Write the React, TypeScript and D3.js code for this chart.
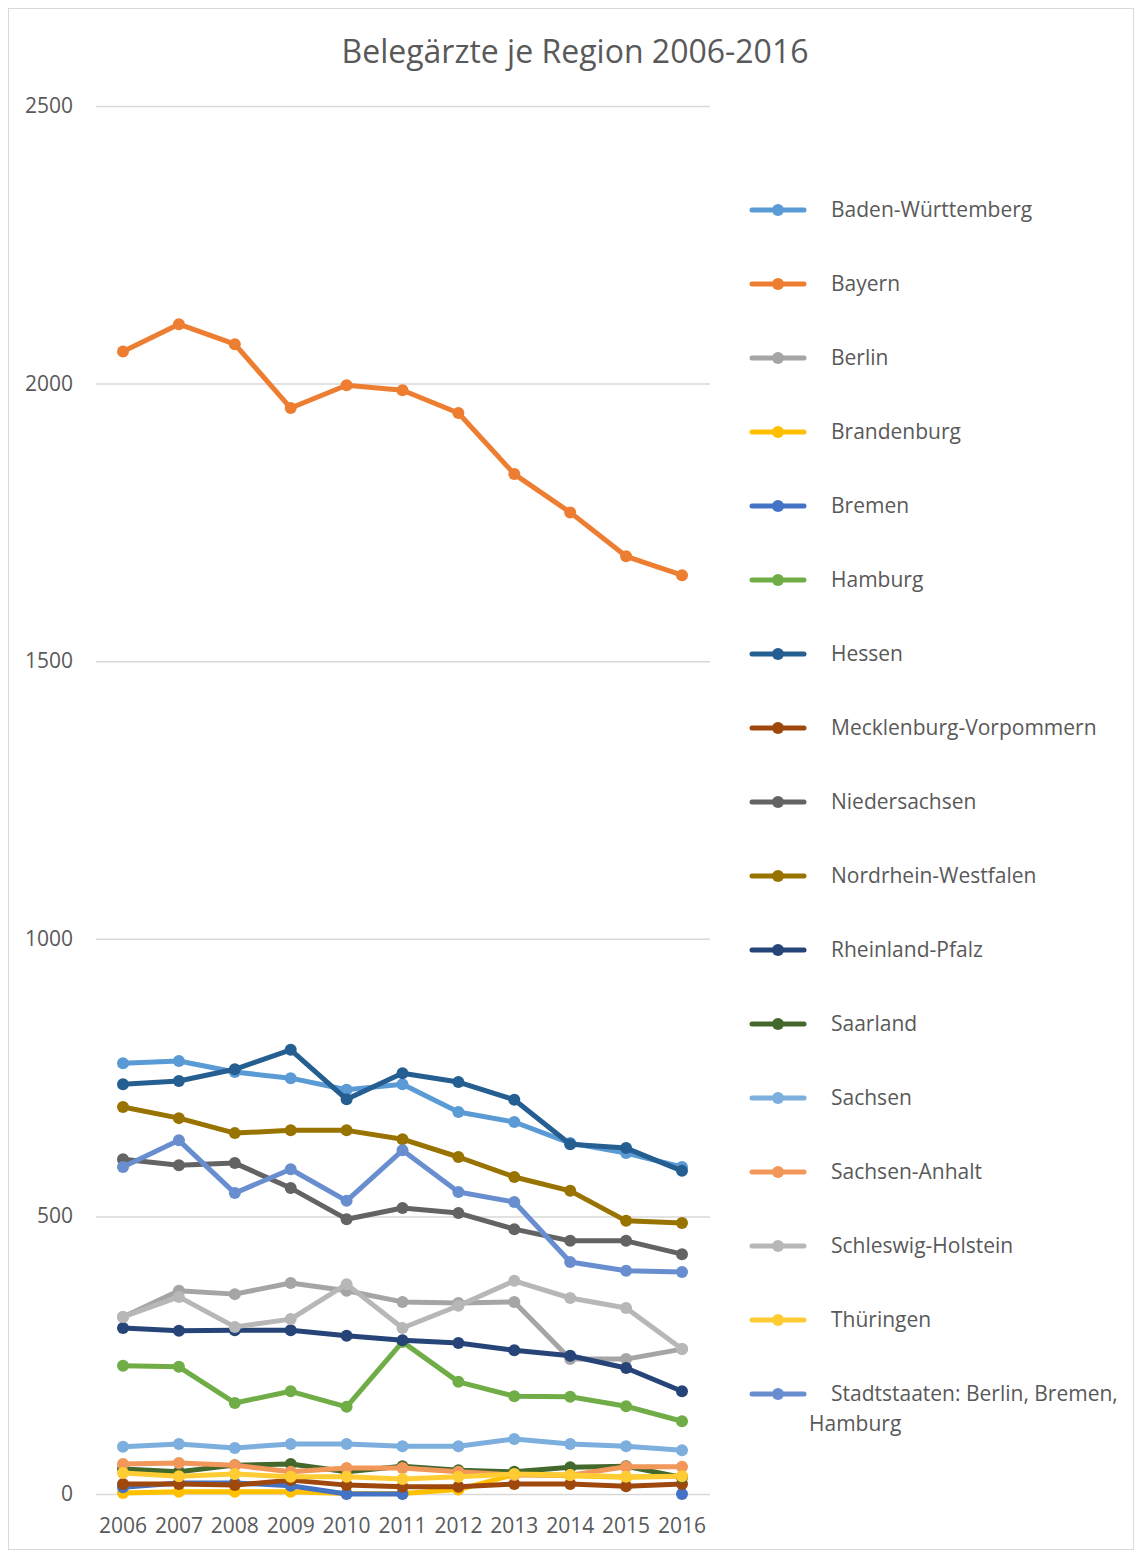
import React, { useEffect, useRef } from 'react';
import * as d3 from 'd3';

const years = ['2006', '2007', '2008', '2009', '2010', '2011', '2012', '2013', '2014', '2015', '2016'];
const yTicks = [0, 500, 1000, 1500, 2000, 2500];

const badenWuerttemberg = [776, 780, 760, 749, 728, 738, 688, 670, 632, 614, 589];
const bayern = [2058, 2107, 2071, 1956, 1997, 1988, 1947, 1837, 1768, 1689, 1655];
const berlin = [319, 366, 360, 380, 366, 346, 344, 346, 243, 243, 261];
const brandenburg = [2, 4, 4, 4, 1, 1, 8, 35, 33, 30, 32];
const bremen = [12, 20, 20, 15, 0, 0, null, null, null, null, 0];
const hamburg = [231, 229, 164, 185, 157, 274, 202, 176, 175, 158, 131];
const hessen = [738, 744, 765, 800, 711, 758, 742, 710, 630, 623, 582];
const mecklenburg = [18, 18, 16, 25, 16, 13, 13, 18, 18, 14, 18];
const niedersachsen = [603, 592, 596, 551, 495, 515, 506, 477, 456, 456, 432];
const nrw = [697, 677, 650, 655, 655, 639, 607, 571, 546, 492, 488];
const rheinlandPfalz = [299, 294, 295, 295, 285, 277, 272, 259, 249, 227, 185];
const saarland = [45, 40, 52, 54, 40, 50, 43, 40, 48, 50, 30];
const sachsen = [85, 90, 83, 90, 90, 86, 86, 99, 90, 86, 79];
const sachsenAnhalt = [54, 56, 52, 40, 47, 47, 40, 34, 34, 49, 49];
const schleswigHolstein = [319, 355, 301, 315, 378, 299, 339, 384, 353, 335, 261];
const thueringen = [38, 32, 36, 31, 31, 27, 31, 36, 34, 31, 32];
const stadtstaaten = [589, 637, 542, 585, 528, 619, 544, 526, 418, 402, 400];

const seriesNames = [
  'Baden-Württemberg', 'Bayern', 'Berlin', 'Brandenburg', 'Bremen', 'Hamburg', 'Hessen',
  'Mecklenburg-Vorpommern', 'Niedersachsen', 'Nordrhein-Westfalen', 'Rheinland-Pfalz',
  'Saarland', 'Sachsen', 'Sachsen-Anhalt', 'Schleswig-Holstein', 'Thüringen',
  'Stadtstaaten: Berlin, Bremen, Hamburg'
];
const seriesValues = [
  badenWuerttemberg, bayern, berlin, brandenburg, bremen, hamburg, hessen, mecklenburg,
  niedersachsen, nrw, rheinlandPfalz, saarland, sachsen, sachsenAnhalt, schleswigHolstein,
  thueringen, stadtstaaten
];
const colors = [
  '#5B9BD5', '#ED7D31', '#A5A5A5', '#FFC000', '#4472C4', '#70AD47', '#255E91', '#9E480E',
  '#636363', '#997300', '#264478', '#43682B', '#7CAFDD', '#F1975A', '#B7B7B7', '#FFCD33',
  '#698ED0'
];

const App = () => {
  const ref = useRef<SVGSVGElement>(null);

  useEffect(() => {
    const svg = d3.select(ref.current);
    svg.selectAll('*').remove();
    const font = '"Open Sans", sans-serif';
    const textColor = '#595959';

    svg.append('rect')
      .attr('x', 8.5).attr('y', 8.5).attr('width', 1125).attr('height', 1541)
      .attr('fill', '#fff').attr('stroke', '#d9d9d9');

    const x = d3.scalePoint().domain(years).range([123, 682]);
    const y = d3.scaleLinear().domain([0, 2500]).range([1494, 106]);

    svg.append('text')
      .attr('x', 575).attr('y', 63)
      .attr('text-anchor', 'middle')
      .style('font-family', font).style('font-size', '32px').style('fill', textColor)
      .text('Belegärzte je Region 2006-2016');

    const grid = svg.append('g');
    grid.selectAll('line').data(yTicks).enter().append('line')
      .attr('x1', 96).attr('x2', 710)
      .attr('y1', (d) => y(d) + 0.5).attr('y2', (d) => y(d) + 0.5)
      .attr('stroke', '#d9d9d9').attr('stroke-width', 1.5);
    grid.selectAll('text').data(yTicks).enter().append('text')
      .attr('x', 73).attr('y', (d) => y(d) + 7)
      .attr('text-anchor', 'end')
      .style('font-family', font).style('font-size', '21px').style('fill', textColor)
      .text((d) => d);

    svg.append('g').selectAll('text').data(years).enter().append('text')
      .attr('x', (d) => x(d)!).attr('y', 1533)
      .attr('text-anchor', 'middle')
      .style('font-family', font).style('font-size', '21px').style('fill', textColor)
      .text((d) => d);

    const line = d3.line<number | null>()
      .defined((d) => d !== null)
      .x((_, i) => x(years[i])!)
      .y((d) => y(d as number));

    seriesValues.forEach((vals, si) => {
      const g = svg.append('g');
      g.append('path')
        .attr('d', line(vals))
        .attr('fill', 'none')
        .attr('stroke', colors[si])
        .attr('stroke-width', 5)
        .attr('stroke-linejoin', 'round')
        .attr('stroke-linecap', 'round');
      g.selectAll('circle')
        .data(vals.map((v, i) => ({ v, i })).filter((d) => d.v !== null))
        .enter().append('circle')
        .attr('cx', (d) => x(years[d.i])!)
        .attr('cy', (d) => y(d.v as number))
        .attr('r', 6)
        .attr('fill', colors[si]);
    });

    const legend = svg.append('g');
    seriesNames.forEach((name, i) => {
      const ly = 210 + i * 74;
      const g = legend.append('g');
      g.append('line')
        .attr('x1', 752).attr('x2', 804).attr('y1', ly).attr('y2', ly)
        .attr('stroke', colors[i]).attr('stroke-width', 5).attr('stroke-linecap', 'round');
      g.append('circle').attr('cx', 778).attr('cy', ly).attr('r', 6).attr('fill', colors[i]);
      const t = g.append('text')
        .style('font-family', font).style('font-size', '21px').style('fill', textColor);
      if (name.startsWith('Stadtstaaten')) {
        t.append('tspan').attr('x', 831).attr('y', ly + 7).text('Stadtstaaten: Berlin, Bremen,');
        t.append('tspan').attr('x', 809).attr('y', ly + 37).text('Hamburg');
      } else {
        t.attr('x', 831).attr('y', ly + 7).text(name);
      }
    });
  }, []);

  return (
    <div style={{ position: 'absolute', left: 0, top: 0 }}>
      <svg ref={ref} width={1135} height={1551} style={{ display: 'block' }} />
    </div>
  );
};

export default App;
